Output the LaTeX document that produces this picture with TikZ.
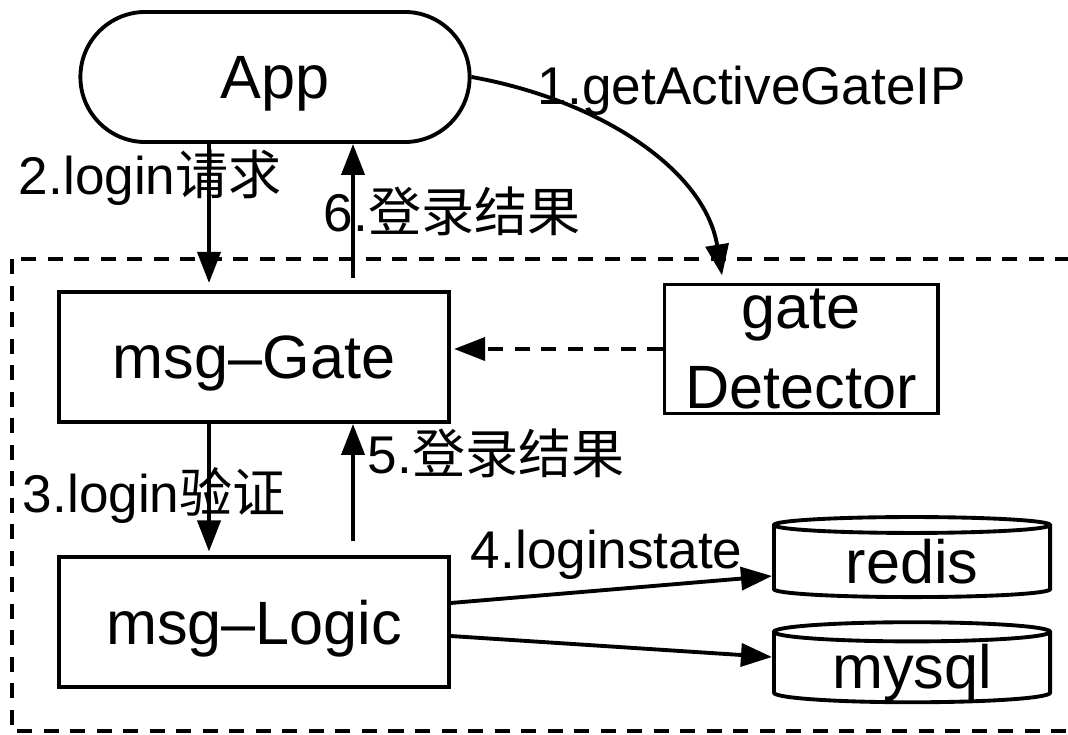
\documentclass[tikz,border=0pt]{standalone}
\usepackage{fontspec}
\setmainfont{Liberation Sans}
\newfontfamily\cjk{Noto Sans CJK SC}
\usetikzlibrary{arrows.meta,shapes.geometric}
\newcommand\boxfont{\fontsize{17.4}{22.8}\selectfont}
\newcommand\labfont{\fontsize{15.1}{18}\selectfont}

\begin{document}
\begin{tikzpicture}[x=0.01cm,y=-0.01cm,line width=1.1pt,
  >={Triangle[length=0.31cm,width=0.23cm]},
  box/.style={draw,rectangle,minimum width=3.89cm,minimum height=1.3cm,font=\boxfont,inner sep=0pt,text depth=0pt},
  db/.style={draw,cylinder,shape border rotate=90,aspect=0.12,minimum width=2.76cm,minimum height=0.8cm,font=\boxfont,inner sep=0pt},
  lab/.style={anchor=base west,inner sep=0pt,font=\labfont},
  frame/.style={dash pattern=on 0.15cm off 0.115cm}]
\useasboundingbox (0,0) rectangle (1068,734);
\clip (0,0) rectangle (1068,734);
% server side
\draw[frame] (12,259) rectangle (1090,731);

\node[box,rounded corners=0.65cm] (app) at (275,77) {App};
\node[box] (gate) at (254,357) {msg--Gate};
\node[box] (logic) at (254,622) {msg--Logic};
\node[box,minimum width=2.73cm,minimum height=1.29cm,align=center] (det) at (801,349) {gate\\Detector};
\node[db] (redis) at (912,562) {\smash{\raisebox{-0.21cm}{redis}}};
\node[db] (mysql) at (912,668) {\smash{\raisebox{-0.2cm}{mysql}}};

% login flow
\draw[->] (app.east) .. controls (600,100) and (705,170) .. ([yshift=2pt]det.north -| 722,0);
\draw[->,shorten >=2pt] (app.south -| 209,0) -- (gate.north -| 209,0);
\draw[->,shorten <=3.4pt] (gate.north -| 353,0) -- (app.south -| 353,0);
\draw[->,shorten >=1pt] (gate.south -| 209,0) -- (logic.north -| 209,0);
\draw[->,shorten <=4pt] (logic.north -| 353,0) -- (gate.south -| 353,0);
\draw[->,frame,shorten >=1pt] (det.west) -- (gate.east |- det.west);
\draw[->] (logic.east |- 0,603) -- (redis.west |- 0,576);
\draw[->] (logic.east |- 0,636) -- (mysql.west |- 0,657);

\node[lab] (l1) at (536,105) {1.getActiveGateIP};
\node[lab] (l2) at (17,195) {2.login{\cjk 请求}};
\node[lab] (l3) at (21,512) {3.login{\cjk 验证}};
\node[lab] (l4) at (469,568) {4.loginstate};
\node[lab] (l5) at (366,473) {5.{\cjk 登录结果}};
\node[lab] (l6) at (322,232) {6.{\cjk 登录结果}};
\end{tikzpicture}
\end{document}
